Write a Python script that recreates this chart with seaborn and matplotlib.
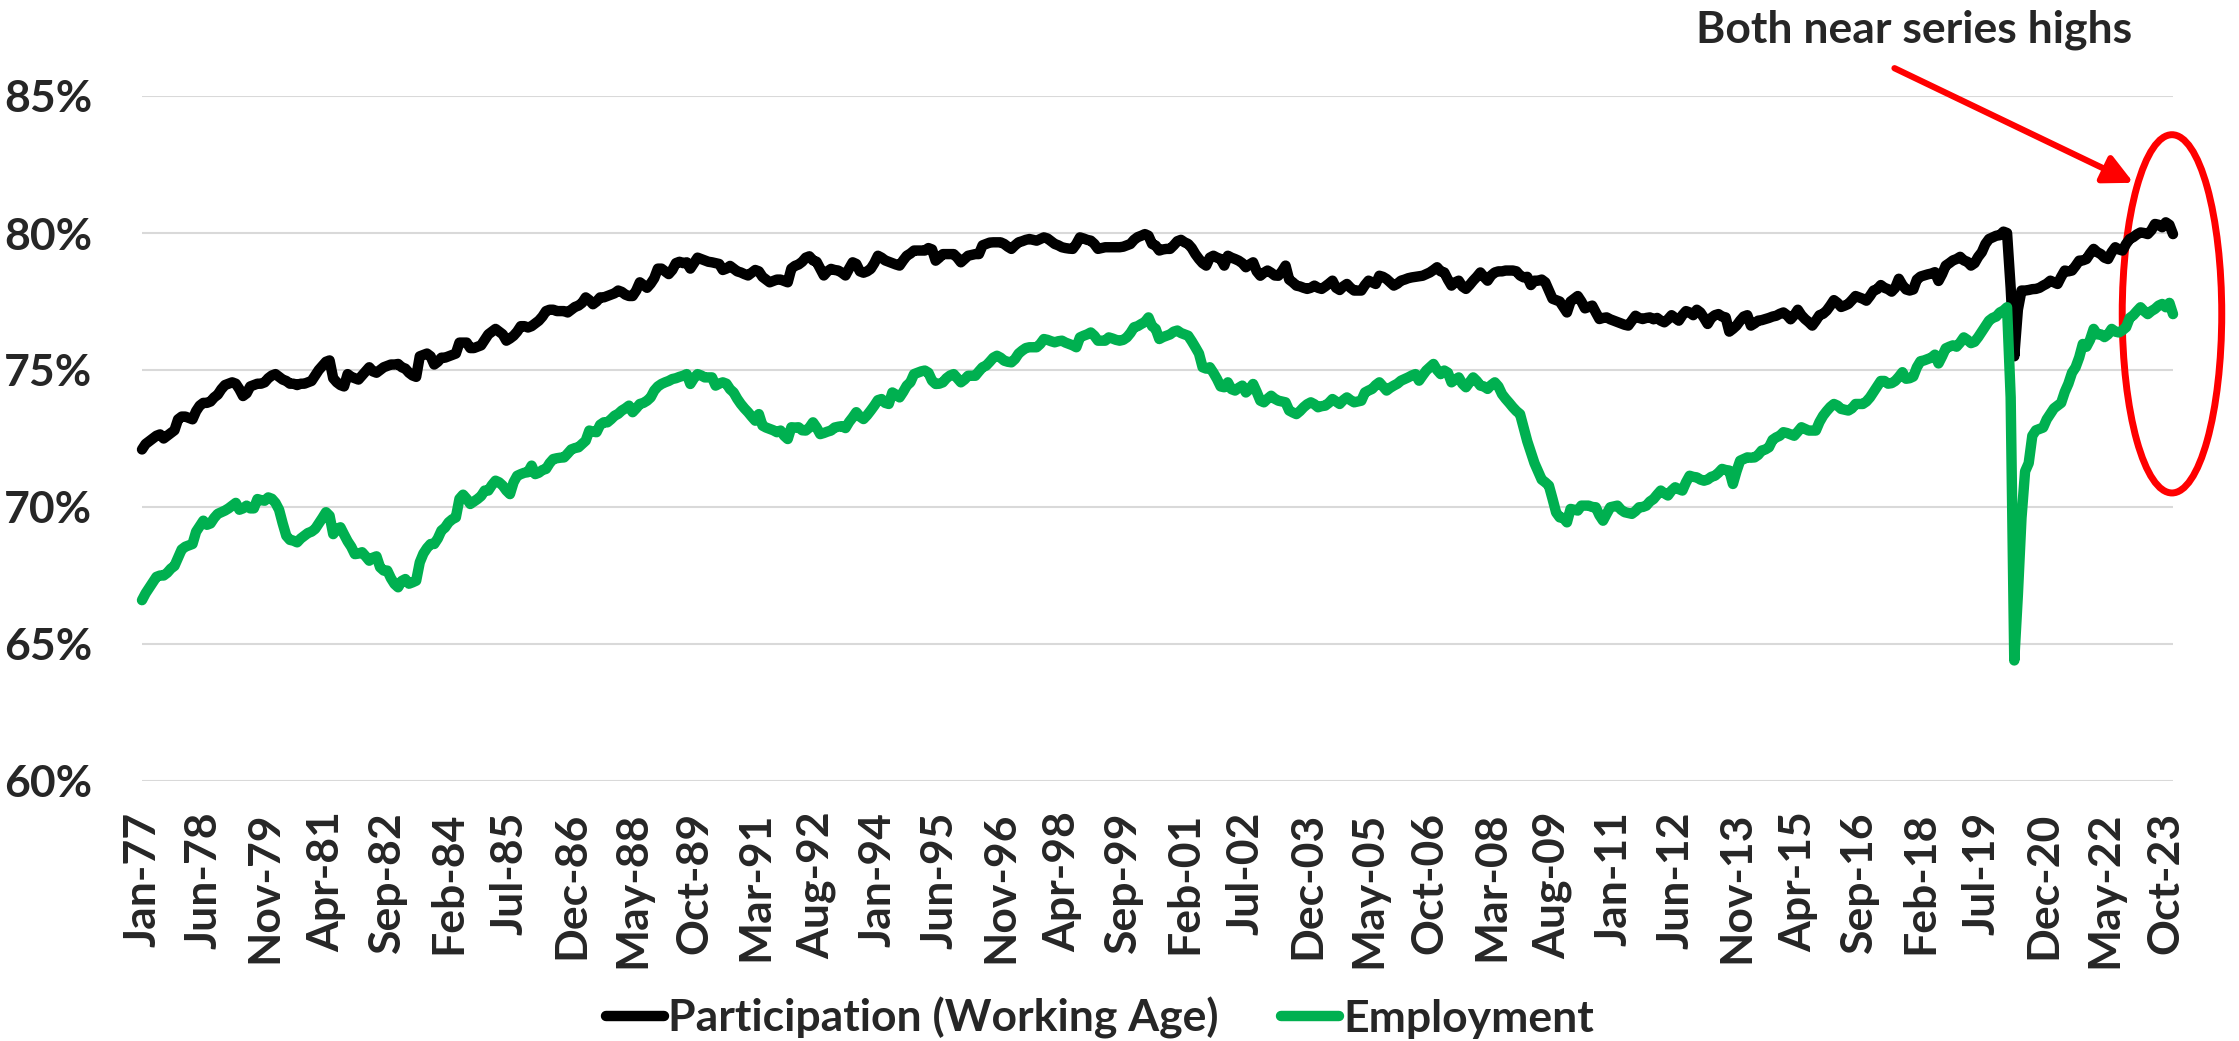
import matplotlib
matplotlib.use("Agg")
import matplotlib.pyplot as plt
import matplotlib.ticker as mticker
from matplotlib.patches import Ellipse, FancyArrowPatch
import numpy as np
import pandas as pd
import seaborn as sns

# monthly values, Jan-1977 .. Dec-2023 (one row per year)
participation = [
    72.1, 72.3, 72.4, 72.5, 72.6, 72.65, 72.5, 72.6, 72.7, 72.8, 73.2, 73.3,
    73.3, 73.25, 73.2, 73.5, 73.7, 73.8, 73.8, 73.85, 74.0, 74.1, 74.3, 74.45,
    74.5, 74.55, 74.5, 74.3, 74.05, 74.15, 74.4, 74.45, 74.5, 74.5, 74.55, 74.7,
    74.8, 74.85, 74.75, 74.65, 74.6, 74.5, 74.5, 74.45, 74.5, 74.5, 74.55, 74.6,
    74.8, 75.0, 75.15, 75.3, 75.35, 74.7, 74.55, 74.45, 74.4, 74.85, 74.75, 74.7,
    74.65, 74.8, 74.95, 75.1, 74.95, 74.9, 75.0, 75.1, 75.15, 75.2, 75.2, 75.22,
    75.1, 75.05, 74.9, 74.8, 74.75, 75.5, 75.55, 75.6, 75.5, 75.2, 75.3, 75.45,
    75.45, 75.5, 75.55, 75.6, 76.0, 76.0, 76.0, 75.8, 75.8, 75.85, 75.9, 76.1,
    76.3, 76.4, 76.5, 76.4, 76.3, 76.07, 76.15, 76.25, 76.4, 76.6, 76.6, 76.55,
    76.6, 76.7, 76.8, 76.95, 77.15, 77.2, 77.2, 77.15, 77.15, 77.15, 77.1, 77.2,
    77.3, 77.35, 77.45, 77.65, 77.55, 77.4, 77.5, 77.65, 77.65, 77.7, 77.75, 77.8,
    77.9, 77.85, 77.75, 77.7, 77.7, 77.9, 78.2, 78.1, 78.0, 78.15, 78.35, 78.7,
    78.7, 78.6, 78.5, 78.65, 78.9, 78.95, 78.9, 78.93, 78.7, 78.9, 79.1, 79.05,
    79.0, 78.95, 78.93, 78.9, 78.87, 78.65, 78.7, 78.8, 78.7, 78.6, 78.56, 78.5,
    78.45, 78.55, 78.65, 78.6, 78.4, 78.3, 78.2, 78.25, 78.3, 78.3, 78.25, 78.2,
    78.7, 78.8, 78.85, 78.95, 79.1, 79.15, 79.0, 78.95, 78.7, 78.45, 78.6, 78.69,
    78.65, 78.63, 78.55, 78.45, 78.7, 78.93, 78.87, 78.6, 78.55, 78.6, 78.69, 78.9,
    79.17, 79.1, 79.0, 78.95, 78.9, 78.85, 78.81, 79.0, 79.17, 79.25, 79.36, 79.36,
    79.36, 79.36, 79.45, 79.4, 78.99, 79.1, 79.23, 79.23, 79.23, 79.23, 79.1, 78.93,
    79.05, 79.17, 79.2, 79.23, 79.23, 79.55, 79.6, 79.65, 79.66, 79.66, 79.66, 79.6,
    79.5, 79.42, 79.55, 79.66, 79.7, 79.75, 79.78, 79.75, 79.72, 79.78, 79.84, 79.8,
    79.7, 79.6, 79.55, 79.48, 79.45, 79.43, 79.42, 79.6, 79.84, 79.8, 79.75, 79.72,
    79.6, 79.42, 79.45, 79.48, 79.48, 79.48, 79.48, 79.48, 79.5, 79.55, 79.6, 79.75,
    79.85, 79.9, 79.96, 79.9, 79.6, 79.54, 79.36, 79.4, 79.42, 79.42, 79.55, 79.7,
    79.75, 79.66, 79.6, 79.45, 79.23, 79.05, 78.9, 78.81, 79.1, 79.17, 79.1, 79.05,
    78.81, 79.17, 79.1, 79.05, 78.99, 78.9, 78.75, 78.85, 78.93, 78.6, 78.44, 78.55,
    78.63, 78.55, 78.45, 78.44, 78.6, 78.81, 78.3, 78.2, 78.08, 78.05, 78.0, 77.96,
    78.0, 78.08, 78.0, 77.96, 78.05, 78.15, 78.26, 78.0, 77.92, 78.05, 78.14, 78.0,
    77.9, 77.9, 77.9, 78.1, 78.26, 78.2, 78.14, 78.44, 78.4, 78.32, 78.2, 78.08,
    78.15, 78.26, 78.3, 78.35, 78.38, 78.4, 78.42, 78.44, 78.5, 78.56, 78.65, 78.75,
    78.6, 78.56, 78.3, 78.08, 78.2, 78.26, 78.05, 77.96, 78.1, 78.26, 78.4, 78.56,
    78.4, 78.26, 78.45, 78.56, 78.6, 78.6, 78.63, 78.63, 78.63, 78.6, 78.45, 78.38,
    78.4, 78.1, 78.26, 78.26, 78.3, 78.2, 77.9, 77.6, 77.55, 77.5, 77.3, 77.1,
    77.5, 77.6, 77.7, 77.5, 77.25, 77.3, 77.35, 77.1, 76.86, 76.9, 76.92, 76.85,
    76.8, 76.75, 76.7, 76.65, 76.62, 76.8, 76.98, 76.9, 76.86, 76.9, 76.92, 76.85,
    76.9, 76.8, 76.74, 76.85, 77.0, 76.9, 76.8, 77.0, 77.15, 77.1, 77.0, 77.2,
    77.1, 76.9, 76.68, 76.9, 77.0, 77.04, 76.95, 76.92, 76.4, 76.5, 76.62, 76.8,
    76.95, 77.0, 76.62, 76.7, 76.8, 76.82, 76.86, 76.9, 76.95, 76.98, 77.05, 77.1,
    77.0, 76.85, 77.0, 77.2, 77.0, 76.86, 76.75, 76.62, 76.8, 77.0, 77.05, 77.17,
    77.35, 77.55, 77.45, 77.3, 77.35, 77.41, 77.55, 77.7, 77.65, 77.6, 77.53, 77.7,
    77.9, 77.95, 78.1, 78.0, 77.95, 77.86, 78.0, 78.33, 78.1, 77.94, 77.9, 77.94,
    78.3, 78.41, 78.45, 78.49, 78.52, 78.57, 78.25, 78.5, 78.81, 78.9, 79.0, 79.05,
    79.13, 79.0, 78.95, 78.81, 78.9, 79.13, 79.3, 79.6, 79.78, 79.84, 79.9, 79.92,
    80.05, 80.0, 78.0, 75.5, 77.2, 77.9, 77.9, 77.92, 77.95, 77.96, 78.0, 78.08,
    78.15, 78.26, 78.2, 78.14, 78.4, 78.63, 78.6, 78.63, 78.8, 78.99, 79.0, 79.05,
    79.25, 79.42, 79.3, 79.23, 79.1, 79.05, 79.3, 79.48, 79.4, 79.36, 79.6, 79.78,
    79.85, 79.95, 80.02, 80.0, 79.96, 80.1, 80.33, 80.3, 80.21, 80.39, 80.3, 79.96,
]

employment = [
    66.6, 66.85, 67.05, 67.25, 67.45, 67.5, 67.5, 67.6, 67.75, 67.85, 68.15, 68.45,
    68.55, 68.6, 68.65, 69.1, 69.3, 69.5, 69.35, 69.4, 69.6, 69.75, 69.81, 69.87,
    69.95, 70.05, 70.15, 69.9, 69.95, 70.05, 69.95, 69.95, 70.29, 70.25, 70.23, 70.35,
    70.3, 70.15, 69.9, 69.4, 68.95, 68.8, 68.77, 68.71, 68.85, 68.95, 69.05, 69.1,
    69.2, 69.4, 69.6, 69.81, 69.68, 69.01, 69.2, 69.26, 69.0, 68.75, 68.55, 68.28,
    68.3, 68.35, 68.2, 68.04, 68.15, 68.2, 67.8, 67.68, 67.68, 67.4, 67.19, 67.07,
    67.3, 67.37, 67.2, 67.25, 67.31, 67.98, 68.3, 68.5, 68.65, 68.65, 68.85, 69.14,
    69.25, 69.44, 69.55, 69.62, 70.3, 70.45, 70.3, 70.11, 70.2, 70.29, 70.4, 70.6,
    70.6, 70.8, 70.96, 70.9, 70.78, 70.6, 70.47, 70.9, 71.14, 71.2, 71.25, 71.27,
    71.51, 71.2, 71.25, 71.35, 71.39, 71.6, 71.75, 71.78, 71.8, 71.81, 71.95, 72.1,
    72.15, 72.18, 72.3, 72.42, 72.79, 72.75, 72.73, 73.0, 73.09, 73.09, 73.2, 73.33,
    73.4, 73.52, 73.6, 73.7, 73.46, 73.6, 73.76, 73.8, 73.88, 74.0, 74.25, 74.4,
    74.49, 74.55, 74.6, 74.67, 74.7, 74.75, 74.79, 74.85, 74.49, 74.7, 74.85, 74.8,
    74.73, 74.73, 74.73, 74.43, 74.5, 74.55, 74.5, 74.3, 74.18, 73.95, 73.76, 73.6,
    73.46, 73.3, 73.15, 73.39, 72.97, 72.9, 72.85, 72.8, 72.73, 72.79, 72.6, 72.48,
    72.91, 72.9, 72.91, 72.8, 72.79, 72.9, 73.09, 72.9, 72.66, 72.7, 72.75, 72.79,
    72.9, 72.93, 72.95, 72.88, 73.1, 73.27, 73.46, 73.3, 73.21, 73.35, 73.52, 73.7,
    73.9, 73.94, 73.8, 73.76, 74.18, 74.1, 74.0, 74.2, 74.43, 74.55, 74.85, 74.9,
    74.95, 74.98, 74.9, 74.61, 74.49, 74.5, 74.55, 74.7, 74.8, 74.85, 74.7, 74.55,
    74.65, 74.79, 74.79, 74.79, 74.95, 75.1, 75.16, 75.3, 75.45, 75.52, 75.45, 75.34,
    75.3, 75.28, 75.4, 75.6, 75.71, 75.8, 75.83, 75.83, 75.83, 75.95, 76.13, 76.1,
    76.05, 76.01, 76.05, 76.07, 76.0, 75.95, 75.9, 75.83, 76.19, 76.25, 76.3, 76.37,
    76.25, 76.07, 76.07, 76.07, 76.19, 76.15, 76.1, 76.07, 76.1, 76.19, 76.35, 76.56,
    76.6, 76.68, 76.75, 76.92, 76.6, 76.5, 76.13, 76.2, 76.25, 76.3, 76.4, 76.44,
    76.35, 76.3, 76.25, 76.05, 75.83, 75.6, 75.1, 75.05, 75.1, 74.9, 74.67, 74.4,
    74.37, 74.55, 74.3, 74.25, 74.35, 74.43, 74.18, 74.3, 74.49, 74.2, 73.88, 73.82,
    73.95, 74.06, 73.95, 73.88, 73.85, 73.82, 73.52, 73.45, 73.39, 73.5, 73.64, 73.75,
    73.82, 73.75, 73.64, 73.68, 73.7, 73.8, 73.94, 73.85, 73.76, 73.9, 74.0, 73.9,
    73.82, 73.85, 73.88, 74.18, 74.25, 74.31, 74.45, 74.55, 74.4, 74.25, 74.35, 74.43,
    74.5, 74.61, 74.67, 74.73, 74.8, 74.85, 74.61, 74.8, 74.98, 75.1, 75.22, 75.0,
    74.85, 74.98, 74.9, 74.55, 74.65, 74.73, 74.5, 74.37, 74.55, 74.73, 74.6, 74.43,
    74.4, 74.31, 74.45, 74.55, 74.4, 74.12, 73.95, 73.8, 73.64, 73.5, 73.39, 72.9,
    72.4, 72.0, 71.6, 71.3, 71.0, 70.9, 70.78, 70.3, 69.8, 69.62, 69.6, 69.44,
    69.93, 69.9, 69.87, 70.05, 70.05, 70.05, 70.0, 69.99, 69.7, 69.5, 69.75, 69.99,
    70.02, 70.05, 69.9, 69.81, 69.78, 69.75, 69.85, 69.99, 70.0, 70.05, 70.2, 70.29,
    70.45, 70.6, 70.5, 70.42, 70.6, 70.72, 70.65, 70.6, 70.9, 71.14, 71.1, 71.08,
    71.0, 70.96, 71.0, 71.1, 71.14, 71.25, 71.39, 71.35, 71.33, 70.84, 71.3, 71.69,
    71.75, 71.81, 71.8, 71.81, 71.9, 72.06, 72.1, 72.18, 72.45, 72.54, 72.6, 72.73,
    72.7, 72.65, 72.6, 72.75, 72.91, 72.85, 72.79, 72.79, 72.79, 73.1, 73.33, 73.5,
    73.65, 73.76, 73.7, 73.58, 73.55, 73.52, 73.6, 73.76, 73.76, 73.76, 73.85, 74.0,
    74.2, 74.4, 74.6, 74.6, 74.5, 74.52, 74.6, 74.75, 74.92, 74.68, 74.7, 74.76,
    75.1, 75.32, 75.35, 75.4, 75.45, 75.56, 75.24, 75.5, 75.79, 75.85, 75.9, 75.85,
    76.0, 76.19, 76.1, 75.98, 76.03, 76.2, 76.4, 76.6, 76.8, 76.9, 76.95, 77.1,
    77.17, 77.29, 74.0, 64.4, 66.8, 69.6, 71.3, 71.6, 72.6, 72.8, 72.85, 72.9,
    73.2, 73.4, 73.6, 73.7, 73.8, 74.2, 74.5, 74.9, 75.1, 75.46, 75.95, 75.85,
    76.1, 76.5, 76.3, 76.3, 76.2, 76.3, 76.5, 76.4, 76.37, 76.45, 76.56, 76.9,
    77.0, 77.15, 77.29, 77.15, 77.04, 77.15, 77.23, 77.35, 77.41, 77.29, 77.45, 77.04,
]

start_month = "1977-01"
tick_step = 17
series_names = ["Participation (Working Age)", "Employment"]
series_colors = ["#000000", "#00B050"]
note_text = "Both near series highs"

months = pd.date_range(start_month, periods=len(participation), freq="MS")
df = pd.DataFrame({
    "idx": np.arange(len(months)),
    series_names[0]: participation,
    series_names[1]: employment,
})
long_df = df.melt(id_vars="idx", var_name="series", value_name="value")

sns.set_style("white")
plt.rcParams["font.family"] = ["Lato", "DejaVu Sans"]
plt.rcParams["font.weight"] = "bold"

W, H = 2239, 1041
fig = plt.figure(figsize=(W / 100, H / 100), dpi=100)
ax = fig.add_axes([142 / W, 1 - 781 / H, (2173 - 142) / W, (781 - 96) / H])

sns.lineplot(data=long_df, x="idx", y="value", hue="series",
             palette=dict(zip(series_names, series_colors)),
             hue_order=series_names, linewidth=7.5, ax=ax,
             solid_capstyle="round", solid_joinstyle="round", clip_on=False)

ax.set_xlim(0, len(months) - 1)
ax.set_ylim(60, 85)
ax.set_xlabel("")
ax.set_ylabel("")

ticks = np.arange(0, len(months), tick_step)
ax.set_xticks(ticks)
ax.set_xticklabels(months[ticks].strftime("%b-%y"), rotation=90,
                   fontsize=32, fontweight="bold", va="top", ha="center")
ax.set_yticks(np.arange(60, 86, 5))
ax.yaxis.set_major_formatter(mticker.FuncFormatter(lambda v, p: f"{v:.0f}%"))
for lab in ax.get_yticklabels():
    lab.set_fontsize(32)
    lab.set_fontweight("bold")
ax.tick_params(axis="x", length=0, pad=22)
ax.tick_params(axis="y", length=0, pad=36)

ax.yaxis.grid(True, color="#d9d9d9", linewidth=1.5)
ax.xaxis.grid(False)
ax.set_axisbelow(True)
for s in ax.spines.values():
    s.set_visible(False)

handles, labels = ax.get_legend_handles_labels()
ax.get_legend().remove()
fig.legend(handles, labels, loc="center", bbox_to_anchor=(1100 / W, 1 - 1018 / H),
           ncol=2, frameon=False, fontsize=32, handlelength=1.3,
           handletextpad=0.1, columnspacing=1.4)

# callout: text, arrow and ring around the latest values
fig.text(1914 / W, 1 - 30 / H, note_text, ha="center", va="center",
         fontsize=32, fontweight="bold")
arrow = FancyArrowPatch((1892 / W, 1 - 67 / H), (2136 / W, 1 - 184 / H),
                        transform=fig.transFigure,
                        arrowstyle="-|>,head_length=0.8,head_width=0.4",
                        mutation_scale=22, color="red", lw=4.5)
fig.patches.append(arrow)
ring = Ellipse((0.9995, 0.682), 0.049, 0.523, transform=ax.transAxes,
               fill=False, edgecolor="red", linewidth=5, clip_on=False)
ax.add_patch(ring)

fig.savefig("out.png", dpi=100)
